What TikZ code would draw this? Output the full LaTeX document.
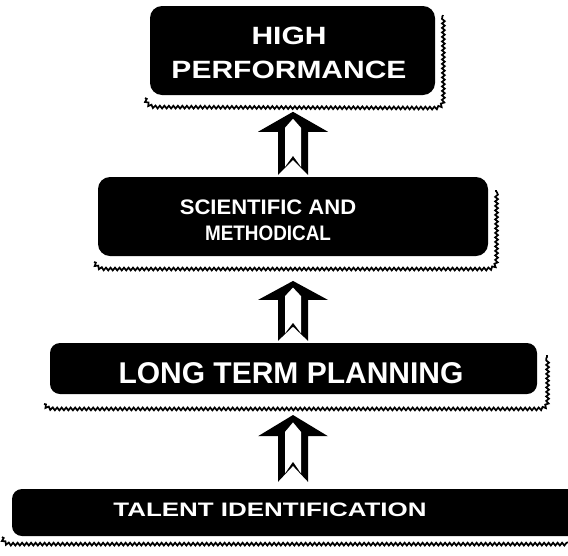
\documentclass[tikz,border=0pt]{standalone}
\usepackage{fontspec}
\setmainfont{Liberation Sans}
\usetikzlibrary{decorations.pathmorphing,calc}
\tikzset{
  stage/.style={fill=black, rounded corners=12pt, inner sep=0pt},
  label/.style={text=white, font=\bfseries, align=center, inner sep=0pt},
  wave/.style={draw=black, line width=1.7pt, decorate,
    decoration={snake, amplitude=1.4pt, segment length=4.5pt}},
  uparrow/.pic={
    \fill[black] (0,-63) -- (35,-43) -- (15,-43) -- (15,0) -- (0,-15)
      -- (-15,0) -- (-15,-43) -- (-35,-43) -- cycle;
    \fill[white] (0,-56) -- (8,-47) -- (8,-8) -- (0,-19) -- (-8,-8)
      -- (-8,-47) -- cycle;
  }
}
\begin{document}
\begin{tikzpicture}[x=1pt,y=-1pt]
\useasboundingbox (0,0) rectangle (568,555);
% boxes
\node[stage, minimum width=285pt, minimum height=89pt] (b1) at (292.5,50.5) {};
\node[stage, minimum width=390pt, minimum height=79pt] (b2) at (293,216.5) {};
\node[stage, rounded corners=10pt, minimum width=487pt, minimum height=51pt] (b3) at (293.5,368.5) {};
\node[stage, rounded corners=10pt, minimum width=568pt, minimum height=47pt] (b4) at (296,512.5) {};
% texts
\node[label, font=\bfseries\fontsize{25}{34}\selectfont] (t1) at (289,53)
  {\scalebox{1.2}[1]{HIGH}\\\scalebox{1.2}[1]{PERFORMANCE}};
\node[label, font=\bfseries\fontsize{21}{26}\selectfont] (t2) at (268,220)
  {\scalebox{1.05}[1]{SCIENTIFIC AND}\\\scalebox{0.9}[1]{METHODICAL}};
\node[label, font=\bfseries\fontsize{30}{34}\selectfont] (t3) at (291,373)
  {LONG TERM PLANNING};
\node[label, font=\bfseries\fontsize{19.5}{24}\selectfont] (t4) at (270,510)
  {\scalebox{1.33}[1]{TALENT IDENTIFICATION}};
% wavy shadows
\draw[wave] (145,98) .. controls (147,104) and (150,106) .. (158,106)
  -- (433,107) .. controls (440,107) and (443,104) .. (443,97) -- (443,15);
\draw[wave] (94,262) .. controls (96,266) and (99,268) .. (106,268)
  -- (486,268) .. controls (493,268) and (496,265) .. (496,258) -- (496,190);
\draw[wave] (44,404) .. controls (46,407) and (49,408) .. (56,408)
  -- (538,408) .. controls (544,408) and (547,405) .. (547,399) -- (547,355);
\draw[wave] (2,537) .. controls (3,541) and (5,543) .. (11,543) -- (570,543);
% arrows
\pic at ($(b2.north)+(0,-2)$) {uparrow};
\pic[yscale=0.95] at ($(b3.north)+(-0.5,-2)$) {uparrow};
\pic[yscale=1.06] at ($(b4.north)+(-3,-7)$) {uparrow};
\end{tikzpicture}
\end{document}
